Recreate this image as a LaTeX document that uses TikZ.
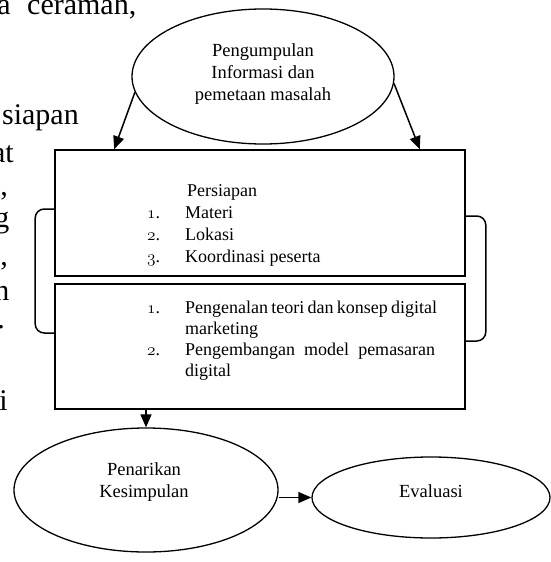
\documentclass[tikz,border=0pt]{standalone}
\usepackage{fontspec}
\newfontfamily\bodyfont{Liberation Serif}
\usetikzlibrary{arrows.meta,shapes.geometric,calc}
\newcommand\osnum[1]{{\usefont{OML}{lmm}{m}{it}#1}}
\tikzset{
  thick line/.style={line width=1.5pt},
  oval/.style={draw, ellipse, line width=1.3pt, inner sep=0pt},
  box/.style={draw, rectangle, line width=1.6pt, inner sep=0pt, minimum width=410pt},
  arr/.style={line width=1.5pt, -{Triangle[length=13pt,width=11pt]}},
  bg/.style={font=\bodyfont\fontsize{30}{34}\selectfont, inner sep=0pt, anchor=base east},
  lbl/.style={font=\bodyfont\fontsize{18.5}{22}\selectfont, inner sep=0pt, anchor=base},
  itm/.style={font=\bodyfont\fontsize{18}{21}\selectfont, inner sep=0pt, anchor=base west},
}
\begin{document}
\begin{tikzpicture}[x=1pt,y=-1pt]
\useasboundingbox (0,0) rectangle (550,562);

% background body text fragments
\node[bg] (b1) at (11,14) {a};
\node[bg, anchor=base west] (b2) at (27,14) {ceramah,};
\node[bg] (b3) at (79,124) {siapan};
\node[bg] (b4) at (14,162) {at};
\node[bg] (b5) at (8,195) {,};
\node[bg] (b6) at (9.5,227) {g};
\node[bg] (b7) at (8,265) {,};
\node[bg] (b8) at (9.5,300) {n};
\node[bg] (b9) at (5,328) {.};
\node[bg] (b10) at (8,410) {i};

% shapes
\node[oval, minimum width=262pt, minimum height=135pt] (peng) at (263,76.5) {};
\node[box, minimum height=126pt] (prep) at (260,213) {};
\node[box, minimum height=125pt] (act) at (260,346.5) {};
\node[oval, minimum width=264pt, minimum height=124pt] (penar) at (146,490) {};
\node[oval, minimum width=238pt, minimum height=81pt] (eval) at (431,497.5) {};

% texts in ellipses
\node[lbl] (t1) at (263,56) {Pengumpulan};
\node[lbl] (t2) at (263,78) {Informasi dan};
\node[lbl] (t3) at (263,100) {pemetaan masalah};
\node[lbl] (t4) at (144,475) {Penarikan};
\node[lbl] (t5) at (144,497) {Kesimpulan};
\node[lbl] (t6) at (431,497) {Evaluasi};

% upper box text
\node[itm] (p0) at (187,196) {Persiapan};
\node[itm] (n1) at (147,218) {\osnum{1}.};
\node[itm] (m1) at (185,218) {Materi};
\node[itm] (n2) at (147,240) {\osnum{2}.};
\node[itm] (m2) at (185,240) {Lokasi};
\node[itm] (n3) at (147,262) {\osnum{3}.};
\node[itm] (m3) at (185,262) {Koordinasi peserta};

% lower box text
\node[itm] (n4) at (147,313) {\osnum{1}.};
\node[itm] (l1) at (185,313) {\hbox to 252pt{Pengenalan\hfill teori\hfill dan\hfill konsep\hfill digital}};
\node[itm] (l2) at (185,334) {marketing};
\node[itm] (n5) at (147,355) {\osnum{2}.};
\node[itm] (l3) at (185,355) {\hbox to 250pt{Pengembangan\hfill model\hfill pemasaran}};
\node[itm] (l4) at (185,376) {digital};

% connectors
\draw[arr] (peng.187) -- ([xshift=60pt]prep.north west);
\draw[arr] (peng.-3) -- ([xshift=-46pt]prep.north east);
\draw[arr] (act.south -| penar.north) -- (penar.north);
\draw[arr] (penar.east |- eval.west) -- (eval.west);

% brackets
\draw[thick line, rounded corners=9pt] ([yshift=4pt]prep.west) -- ++(-19,0) -- ++(0,124) -- ++(19,0);
\draw[thick line, rounded corners=9pt] ([yshift=-3pt]prep.east) -- ++(20,0) -- ++(0,125) -- ++(-20,0);
\end{tikzpicture}
\end{document}
